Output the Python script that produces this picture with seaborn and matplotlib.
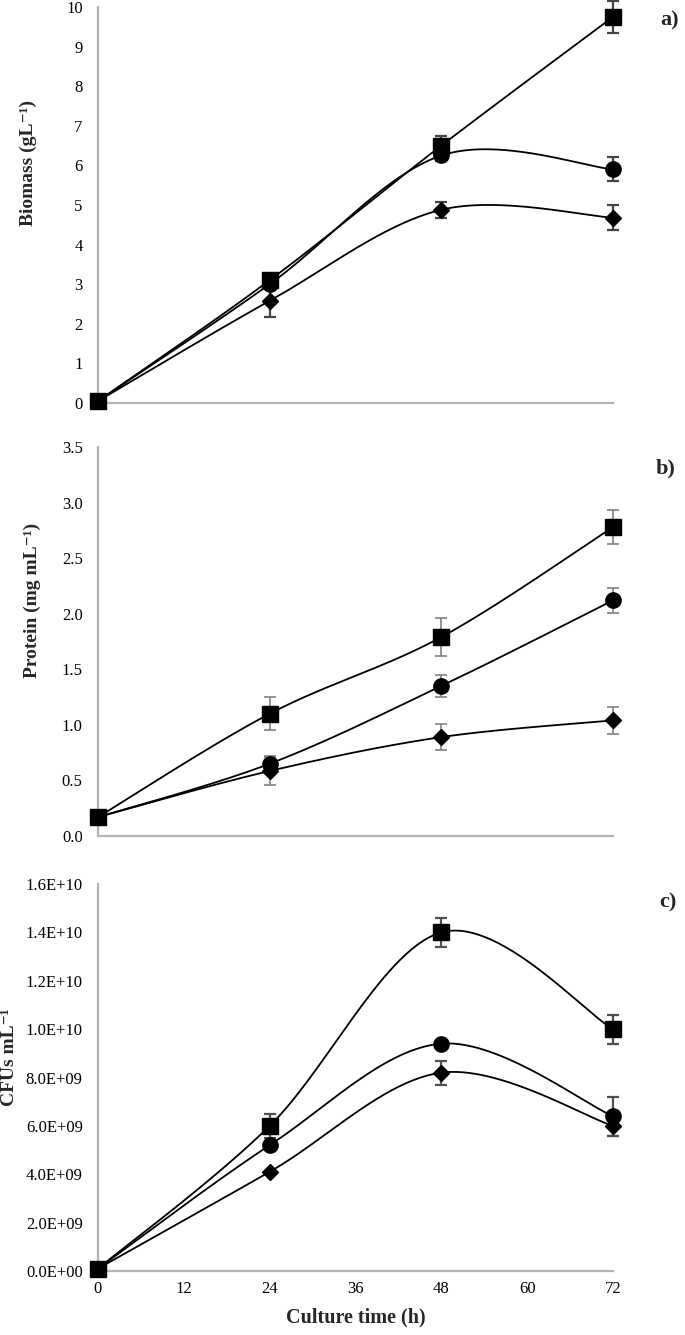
import numpy as np
import pandas as pd
import matplotlib
matplotlib.use("Agg")
import matplotlib.pyplot as plt
from matplotlib.ticker import FuncFormatter, MultipleLocator
import seaborn as sns

# ---------------- data ----------------
time_h = [0, 24, 48, 72]

biomass_square = [0.05, 3.1, 6.5, 9.75]
biomass_square_err = [0.0, 0.1, 0.25, 0.4]
biomass_circle = [0.05, 3.0, 6.25, 5.9]
biomass_circle_err = [0.0, 0.1, 0.15, 0.3]
biomass_diamond = [0.05, 2.58, 4.88, 4.68]
biomass_diamond_err = [0.0, 0.42, 0.2, 0.32]

protein_square = [0.17, 1.10, 1.79, 2.78]
protein_square_err = [0.0, 0.15, 0.17, 0.155]
protein_circle = [0.17, 0.65, 1.35, 2.12]
protein_circle_err = [0.0, 0.07, 0.1, 0.11]
protein_diamond = [0.17, 0.585, 0.89, 1.04]
protein_diamond_err = [0.0, 0.13, 0.115, 0.12]

cfu_square = [0.1e9, 6.0e9, 14.0e9, 10.0e9]
cfu_square_err = [0.0, 0.5e9, 0.6e9, 0.6e9]
cfu_circle = [0.1e9, 5.2e9, 9.4e9, 6.4e9]
cfu_circle_err = [0.0, 0.0, 0.0, 0.8e9]
cfu_diamond = [0.1e9, 4.1e9, 8.2e9, 6.0e9]
cfu_diamond_err = [0.0, 0.0, 0.5e9, 0.4e9]

ylabels = ["Biomass (gL\u207b\u00b9)", "Protein (mg mL\u207b\u00b9)", "CFUs mL\u207b\u00b9"]
panel_tags = ["a)", "b)", "c)"]
xticks = [0, 12, 24, 36, 48, 60, 72]

# ---------------- style ----------------
sns.set_theme(style="white")
plt.rcParams["font.family"] = ["Liberation Serif", "DejaVu Serif"]

FONT_TICK = 12
FONT_YLABEL = 14
FONT_XLABEL = 14.5
AXIS_GRAY = "#b4b4b4"


def smooth_curve(x, y, n=60):
    """Excel-style smoothed line (Catmull-Rom -> cubic Bezier)."""
    pts = np.column_stack([x, y]).astype(float)
    m = len(pts)
    xs, ys = [], []
    for i in range(m - 1):
        p0 = pts[i]
        p3 = pts[i + 1]
        pm = pts[i - 1] if i > 0 else pts[i]
        pp = pts[i + 2] if i + 2 < m else pts[i + 1]
        p1 = p0 + (p3 - pm) / 6.0
        p2 = p3 - (pp - p0) / 6.0
        t = np.linspace(0, 1, n)[:, None]
        b = ((1 - t) ** 3) * p0 + 3 * ((1 - t) ** 2) * t * p1 + 3 * (1 - t) * t ** 2 * p2 + t ** 3 * p3
        if i > 0:
            b = b[1:]
        xs.append(b[:, 0])
        ys.append(b[:, 1])
    return np.concatenate(xs), np.concatenate(ys)


W, H = 685, 1335
fig = plt.figure(figsize=(W / 100, H / 100), dpi=100)
x0px, x1px = 98, 613
axes_px = [(7, 403), (447, 836), (884, 1271)]  # (top, bottom) in pixels

panels = [
    dict(series=[(biomass_diamond, biomass_diamond_err, "D"),
                 (biomass_circle, biomass_circle_err, "o"),
                 (biomass_square, biomass_square_err, "s")],
         ylim=(0, 10), step=1, fmt=lambda v, p: f"{v:.0f}", ecolor="#444444", elw=1.6),
    dict(series=[(protein_diamond, protein_diamond_err, "D"),
                 (protein_circle, protein_circle_err, "o"),
                 (protein_square, protein_square_err, "s")],
         ylim=(0, 3.5), step=0.5, fmt=lambda v, p: f"{v:.1f}", ecolor="#808080", elw=1.2),
    dict(series=[(cfu_diamond, cfu_diamond_err, "D"),
                 (cfu_circle, cfu_circle_err, "o"),
                 (cfu_square, cfu_square_err, "s")],
         ylim=(0, 1.6e10), step=2e9, fmt=lambda v, p: f"{v:.1E}", ecolor="#505050", elw=1.6),
]

tag_pos = [(670, 20), (666, 468), (668, 902)]
ylabel_pos = [(28, 163), (32, 600), (10, 1057)]

for k, pan in enumerate(panels):
    top, bot = axes_px[k]
    ax = fig.add_axes((x0px / W, 1 - bot / H, (x1px - x0px) / W, (bot - top) / H))
    for vals, errs, mk in pan["series"]:
        sx, sy = smooth_curve(time_h, vals)
        sns.lineplot(x=sx, y=sy, ax=ax, color="black", linewidth=1.3,
                     sort=False, estimator=None, zorder=3)
        ax.errorbar(time_h, vals, yerr=errs, fmt="none", ecolor=pan["ecolor"],
                    elinewidth=pan["elw"], capsize=4.5, capthick=pan["elw"], zorder=2,
                    clip_on=False)
        msize = 7.8 if mk == "D" else 11
        ax.plot(time_h, vals, linestyle="none", marker=mk, markersize=msize,
                color="black", markeredgecolor="black", zorder=4, clip_on=False)

    ax.set_xlim(0, 72)
    ax.set_ylim(*pan["ylim"])
    ax.set_xticks(xticks)
    ax.yaxis.set_major_locator(MultipleLocator(pan["step"]))
    ax.yaxis.set_major_formatter(FuncFormatter(pan["fmt"]))
    for side in ["top", "right"]:
        ax.spines[side].set_visible(False)
    for side in ["left", "bottom"]:
        ax.spines[side].set_color(AXIS_GRAY)
        ax.spines[side].set_linewidth(1.6)
    ax.tick_params(axis="y", length=0, pad=11, labelsize=FONT_TICK, labelcolor="black")
    ax.tick_params(axis="x", length=4, width=1.2, color=AXIS_GRAY, direction="out",
                   labelsize=FONT_TICK, labelcolor="black", pad=3)
    if k < 2:
        ax.tick_params(axis="x", labelbottom=False)
        ax.set_xlabel("")
    else:
        ax.set_xlabel("Culture time (h)", fontsize=FONT_XLABEL, fontweight="bold",
                      labelpad=8)
    ax.set_ylabel(ylabels[k], fontsize=FONT_YLABEL, fontweight="bold")
    lx, ly = ylabel_pos[k]
    ax.yaxis.set_label_coords((lx - x0px) / (x1px - x0px), (bot - ly) / (bot - top))
    ax.yaxis.label.set_verticalalignment("center")
    ax.grid(False)
    ax.set_facecolor("white")

    tx, ty = tag_pos[k]
    fig.text(tx / W, 1 - ty / H, panel_tags[k], fontsize=16, fontweight="bold",
             ha="center", va="center")

fig.savefig("out.png", dpi=100, facecolor="white")
